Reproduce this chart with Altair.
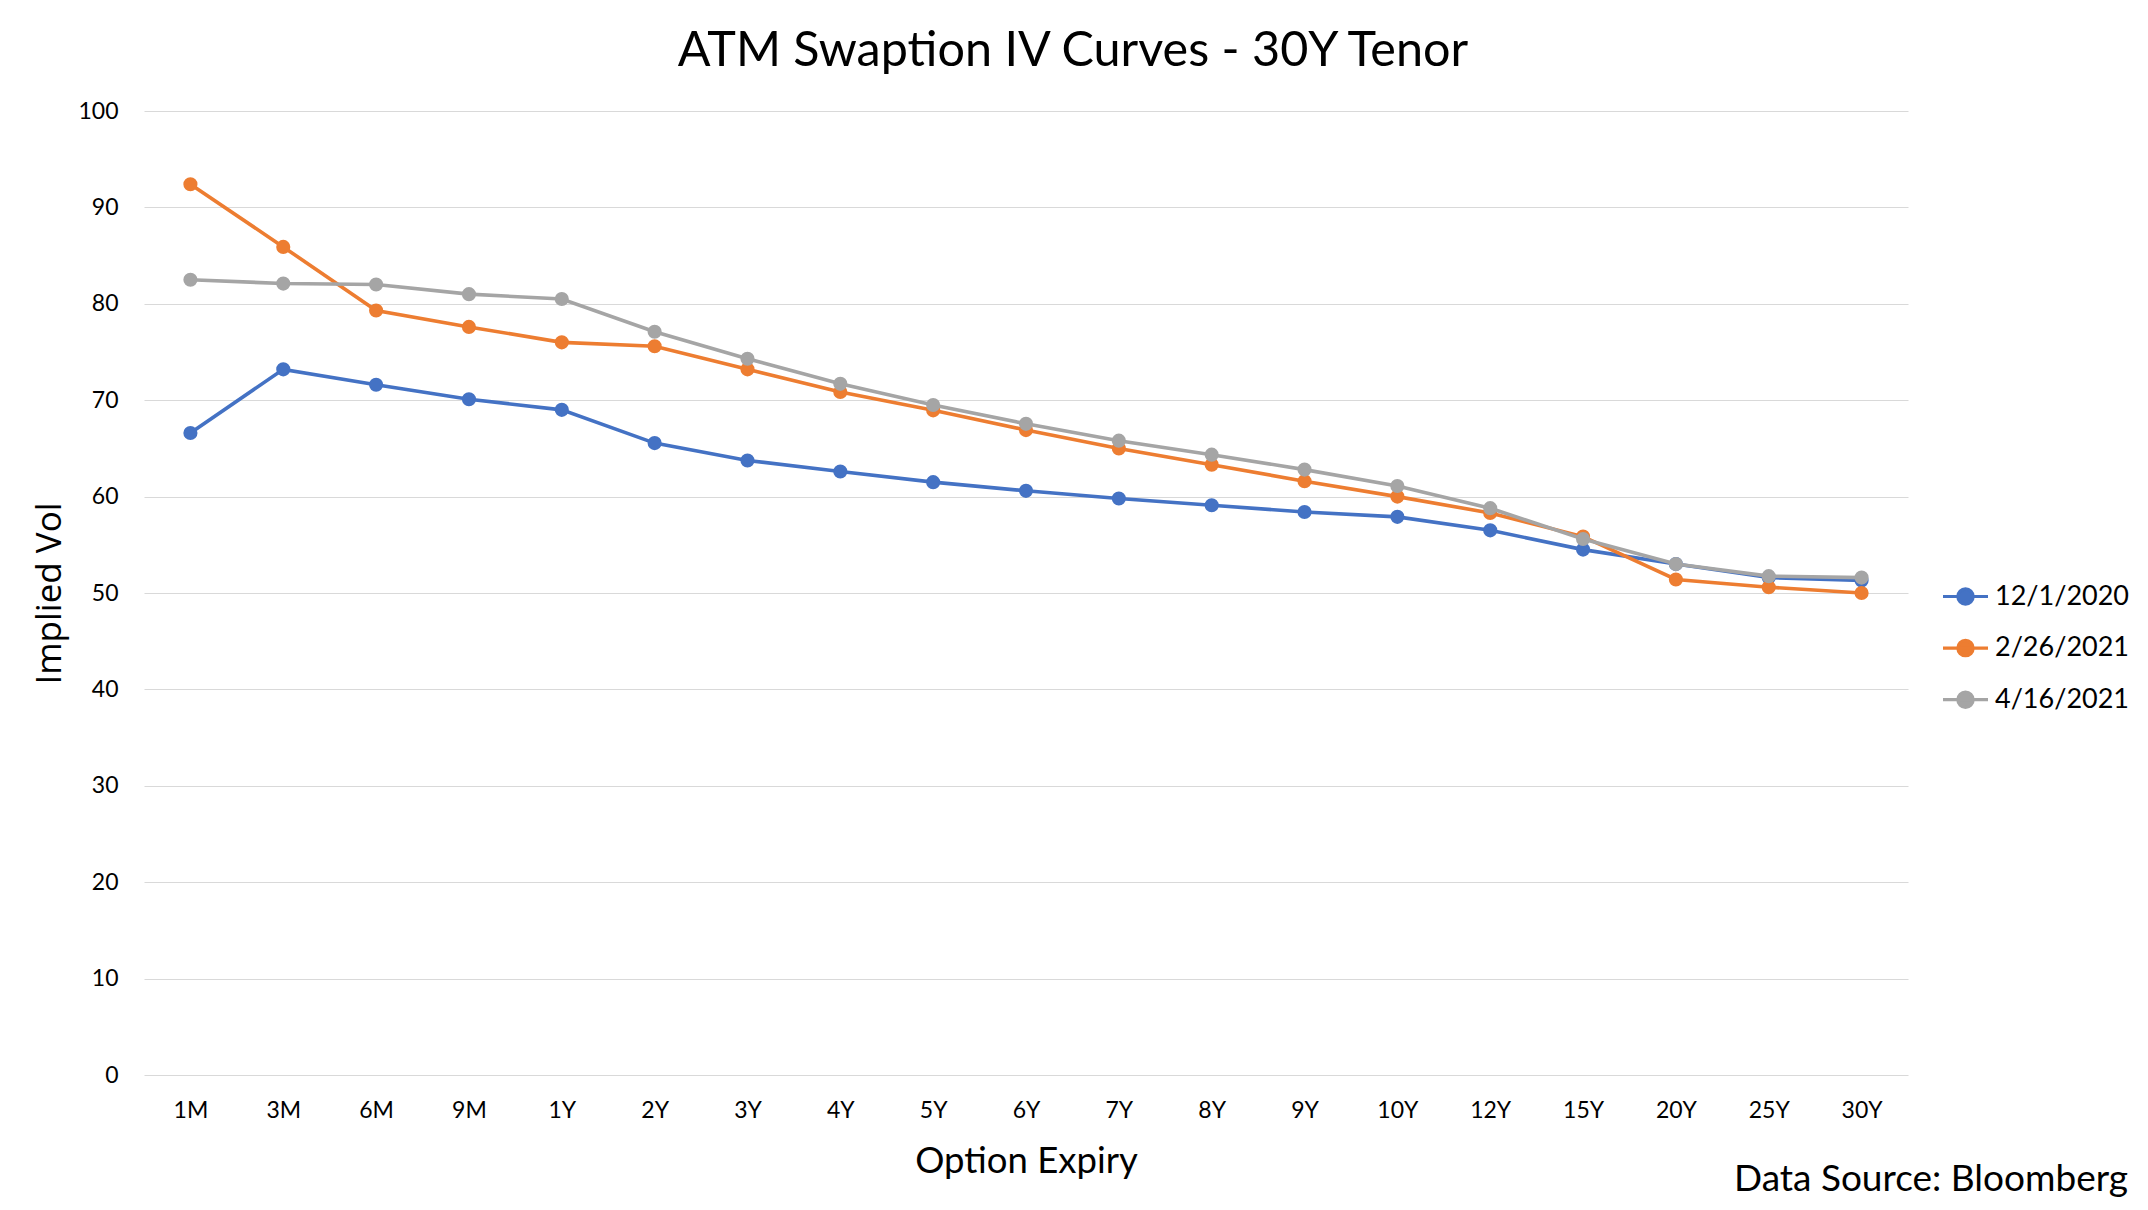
import altair as alt
import pandas as pd

expiry = ["1M", "3M", "6M", "9M", "1Y", "2Y", "3Y", "4Y", "5Y", "6Y",
          "7Y", "8Y", "9Y", "10Y", "12Y", "15Y", "20Y", "25Y", "30Y"]
series_names = ["12/1/2020", "2/26/2021", "4/16/2021"]
series_colors = ["#4472C4", "#ED7D31", "#A5A5A5"]
vol_2020_12_01 = [66.6, 73.2, 71.6, 70.1, 69.0, 65.55, 63.75, 62.6, 61.5, 60.6,
                  59.8, 59.1, 58.4, 57.9, 56.5, 54.5, 53.0, 51.6, 51.3]
vol_2021_02_26 = [92.4, 85.9, 79.3, 77.6, 76.0, 75.6, 73.2, 70.85, 68.95, 66.9,
                  65.0, 63.3, 61.6, 60.0, 58.3, 55.85, 51.4, 50.6, 50.0]
vol_2021_04_16 = [82.5, 82.1, 82.0, 81.0, 80.5, 77.1, 74.3, 71.7, 69.5, 67.55,
                  65.8, 64.35, 62.8, 61.1, 58.8, 55.6, 53.0, 51.75, 51.6]
y_ticks = [0, 10, 20, 30, 40, 50, 60, 70, 80, 90, 100]

rows = []
for name, vals in zip(series_names, [vol_2020_12_01, vol_2021_02_26, vol_2021_04_16]):
    for e, v in zip(expiry, vals):
        rows.append({"Expiry": e, "Vol": v, "Date": name})
df = pd.DataFrame(rows)

FONT = "Lato"
W, H = 1764, 964
sym_path = "M-1,0L1,0M-0.34,0a0.34,0.34 0 1,0 0.68,0a0.34,0.34 0 1,0 -0.68,0"

x_enc = alt.X(
    "Expiry:N", sort=expiry,
    scale=alt.Scale(type="point", padding=0.5),
    axis=alt.Axis(
        title="Option Expiry", labelAngle=0, labelFont=FONT, labelFontSize=23,
        labelColor="#000000", labelPadding=24, ticks=False, domain=False, grid=False,
        titleFont=FONT, titleFontSize=36.5, titleFontWeight="normal", titleColor="#000000",
        titleX=W / 2, titleY=86, titleBaseline="middle", titleAlign="center",
    ),
)
y_enc = alt.Y(
    "Vol:Q",
    scale=alt.Scale(domain=[0, 100], nice=False, zero=True),
    axis=alt.Axis(
        title="Implied Vol", values=y_ticks, labelFont=FONT, labelFontSize=23,
        labelColor="#000000", labelPadding=26, ticks=False, domain=False,
        grid=True, gridColor="#D9D9D9", gridWidth=1.2,
        titleFont="Open Sans", titleFontSize=35, titleFontWeight="normal",
        titleColor="#000000", titleX=-95, titleY=H / 2, titleAngle=-90,
        titleBaseline="middle", titleAlign="center",
    ),
)
color_enc = alt.Color(
    "Date:N",
    scale=alt.Scale(domain=series_names, range=series_colors),
    legend=alt.Legend(
        title=None, orient="none", legendX=1797, legendY=461,
        symbolType=sym_path, symbolSize=2025, symbolStrokeWidth=3.2,
        labelFont=FONT, labelFontSize=27, labelColor="#000000",
        labelOffset=5, rowPadding=12.6, padding=0,
    ),
)

layers = []
for name in series_names:
    base = alt.Chart(df).transform_filter(alt.datum.Date == name)
    layers.append(base.mark_line(strokeWidth=3.6).encode(x=x_enc, y=y_enc, color=color_enc))
    layers.append(base.mark_circle(size=200, opacity=1).encode(x=x_enc, y=y_enc, color=color_enc))

source = alt.Chart(pd.DataFrame({"t": ["Data Source: Bloomberg"]})).mark_text(
    font=FONT, fontSize=37, align="right", baseline="middle", color="#000000"
).encode(text="t:N", x=alt.value(1984), y=alt.value(1069))

chart = alt.layer(*layers, source).properties(
    width=W, height=H,
    background="white",
    title=alt.TitleParams(
        "ATM Swaption IV Curves - 30Y Tenor", font=FONT, fontSize=48.5,
        fontWeight="normal", color="#000000", anchor="middle", dx=47, offset=24,
    ),
    autosize=alt.AutoSizeParams(type="none"),
    padding={"left": 136, "top": 103, "right": 228, "bottom": 123},
).configure_view(stroke="transparent", strokeWidth=0)

chart.save("out.html", embed_options={"renderer": "svg", "actions": False})
